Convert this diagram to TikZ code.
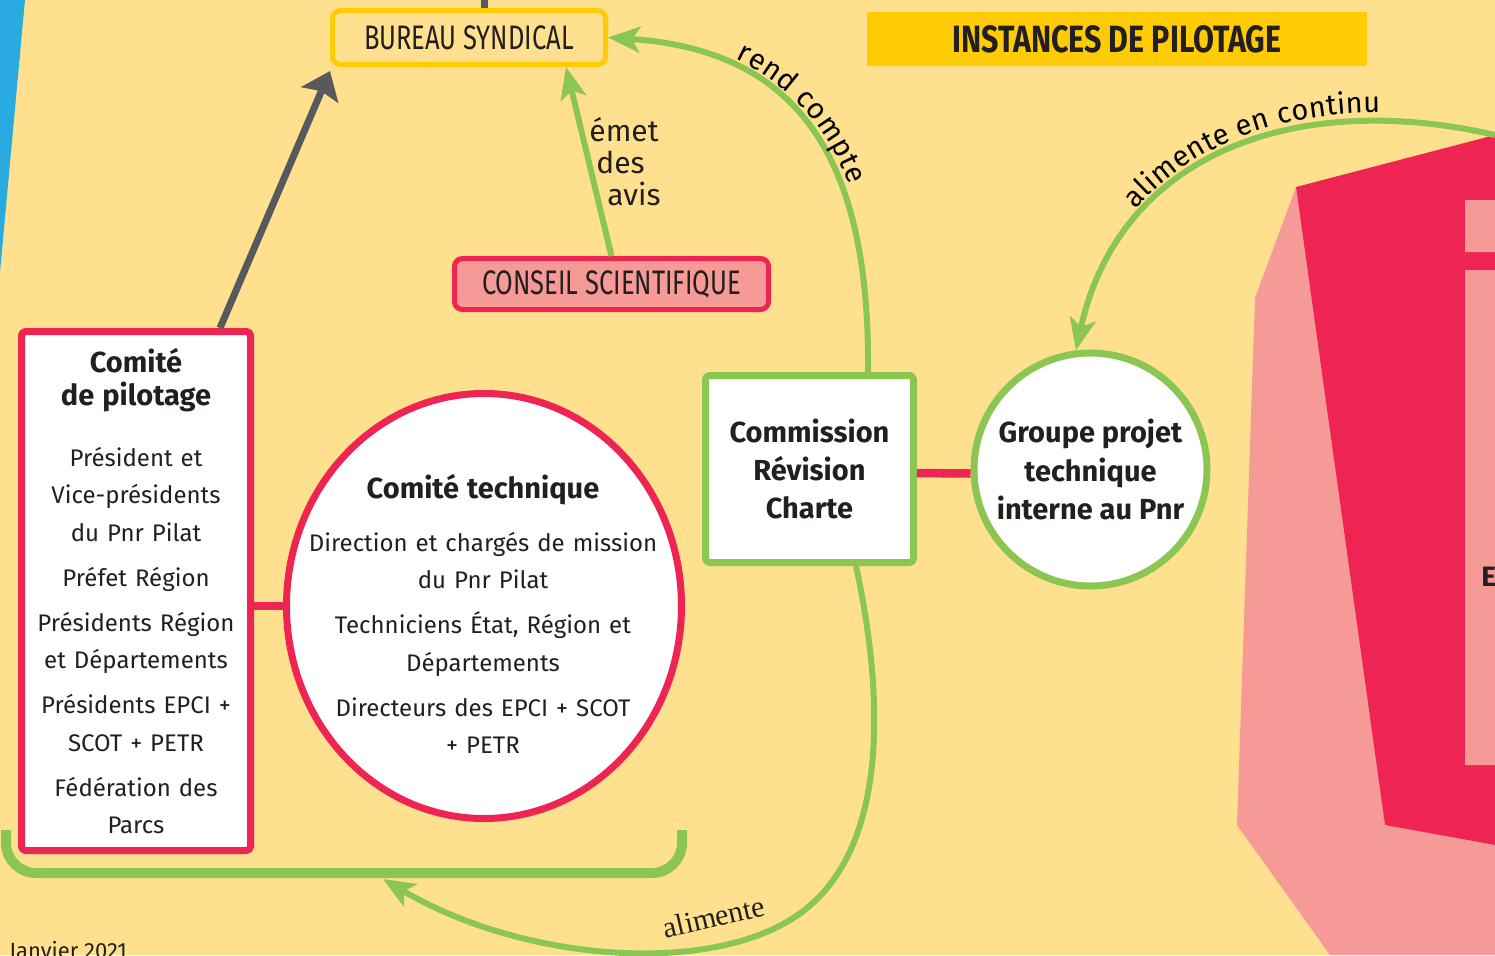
\documentclass[tikz,border=0pt]{standalone}
\usepackage{fontspec}
\setmainfont{Fira Sans}
\newfontfamily\condfont[FakeStretch=0.75]{Fira Sans}
\newfontfamily\wideconfont[FakeStretch=0.8]{Fira Sans}
\newfontfamily\seriffont{Liberation Serif}
\usetikzlibrary{arrows.meta,calc,decorations.text,shapes.geometric}
\definecolor{bgyellow}{HTML}{FEE08E}
\definecolor{pnrgreen}{HTML}{8BC653}
\definecolor{pnrred}{HTML}{EE2453}
\definecolor{pnrpink}{HTML}{F59A97}
\definecolor{pnrgold}{HTML}{FFCB05}
\definecolor{pnrgray}{HTML}{58595B}
\definecolor{pnrblue}{HTML}{29ABE2}
\definecolor{inkdark}{HTML}{231F20}
\newcommand\headfont{\bfseries\fontsize{14.5}{16.5}\selectfont}
\begin{document}
\begin{tikzpicture}[x=.5pt,y=-.5pt,line join=round,
    every node/.style={text=inkdark,inner sep=0pt},
    body/.style={font=\fontsize{12}{18.75}\selectfont},
    pilotbox/.style={rectangle,draw=pnrred,line width=3.5pt,fill=white,rounded corners=2pt,
      minimum width=114.5pt,minimum height=259.5pt,body,text width=112pt,align=center},
    techring/.style={ellipse,draw=pnrred,line width=3.5pt,fill=white,
      minimum width=197.5pt,minimum height=212.5pt},
    revbox/.style={rectangle,draw=pnrgreen,line width=3.5pt,fill=white,rounded corners=2pt,
      minimum width=104pt,minimum height=93.5pt,align=center,
      font=\bfseries\fontsize{14.5}{19}\selectfont},
    groupring/.style={circle,draw=pnrgreen,line width=3.5pt,fill=white,
      minimum size=116.5pt,align=center,font=\bfseries\fontsize{14.5}{19.25}\selectfont},
    bureaubox/.style={rectangle,draw=pnrgold,line width=2.5pt,rounded corners=4pt,
      minimum width=136.5pt,minimum height=27pt,font=\condfont\fontsize{17}{17}\selectfont},
    conseilbox/.style={rectangle,draw=pnrred,fill=pnrpink,line width=2.5pt,rounded corners=4pt,
      minimum width=157pt,minimum height=25.5pt,font=\condfont\fontsize{17}{17}\selectfont},
    titlebar/.style={rectangle,fill=pnrgold,minimum width=250pt,minimum height=27pt,
      font=\wideconfont\bfseries\fontsize{19}{19}\selectfont},
    greenarrow/.style={draw=pnrgreen,line width=3pt,-{Stealth[length=16pt,width=13pt,inset=4pt]}},
    redlink/.style={draw=pnrred,line width=4.25pt},
    pathlabel/.style={decorate,decoration={text along path,raise=4pt,
      text={|\fontsize{14.5}{14.5}\selectfont|#1}}}]
  \useasboundingbox (0,0) rectangle (1495,955);
  \fill[bgyellow] (0,0) rectangle (1495,955);
  \fill[pnrblue] (0,0) -- (25,0) -- (0,272) -- cycle;
  % right hand side of the poster
  \fill[pnrpink] (1296,187) -- (1255,298) -- (1237,825) -- (1330,955) -- (1495,955) -- (1495,845) -- (1385,825) -- cycle;
  \fill[pnrred] (1296,187) -- (1495,135) -- (1495,845) -- (1385,825) -- cycle;
  \fill[pnrpink] (1465,200) rectangle (1495,252) (1465,270) rectangle (1495,765);
  \node[anchor=west,font=\bfseries\fontsize{14}{14}\selectfont] (cutword) at (1481,577) {E};

  \node[titlebar] (title) at (1117,39) {INSTANCES DE PILOTAGE};
  \node[bureaubox] (bs) at (469,37.5) {BUREAU SYNDICAL};
  \node[conseilbox] (cs) at (611.5,284) {CONSEIL SCIENTIFIQUE};
  \node[pilotbox] (pil) at (136,591) {%
    {\headfont Comité\\de pilotage\par}\vspace{11.75pt}
    Président et\\Vice-présidents\\du Pnr Pilat\par\vspace{3.75pt}
    Préfet Région\par\vspace{3.75pt}
    Présidents Région\\et Départements\par\vspace{3.75pt}
    Présidents EPCI +\\SCOT + PETR\par\vspace{3.75pt}
    Fédération des\\Parcs\par};
  \node[techring] (tech) at (484,606) {};
  \node[body,text width=182pt,align=center] (techtxt) at (483,614) {%
    {\headfont Comité technique\par}\vspace{7.75pt}
    Direction et chargés de mission\\du Pnr Pilat\par\vspace{3.75pt}
    Techniciens État, Région et\\Départements\par\vspace{3.75pt}
    Directeurs des EPCI + SCOT\\+ PETR\par};
  \node[revbox] (cmr) at (809.5,469) {Commission\\Révision\\Charte};
  \node[groupring] (gpt) at (1090.5,469.5) {Groupe projet\\technique\\interne au Pnr};

  \draw[redlink] (pil.east |- tech.west) -- (tech.west);
  \draw[redlink] ($(cmr.east)+(0,4)$) -- ($(gpt.west)+(0,4)$);

  \coordinate (bstub) at (484,0);
  \draw[pnrgray,line width=3.5pt] (bs.north -| bstub) -- (bstub);
  \draw[pnrgray,line width=3.5pt,-{Stealth[length=13pt,width=20pt,inset=2pt]}]
    ($(pil.north east)+(-34,0)$) -- ($(bs.south west)+(0,4)$);
  \draw[greenarrow] (cs.north) -- ($(bs.south east)+(-42,0)$);
  \node[anchor=north west,align=left,font=\fontsize{15}{16}\selectfont] (avis) at (589,117)
    {émet\\\hspace*{3.5pt}des\\\hspace*{9pt}avis};

  \draw[greenarrow] ($(cmr.north east)+(-49,0)$) .. controls (870,160) and (800,50) .. (bs.east);
  \path[pathlabel={rend compte},decoration={text align={left indent=64pt}}]
    (bs.east) .. controls (800,50) and (870,160) .. ($(cmr.north east)+(-49,0)$);

  \coordinate (offR) at (1495,135);
  \draw[greenarrow] (offR) .. controls (1300,90) and (1120,150) .. (gpt.97);
  \path[pathlabel={alimente en continu},decoration={text align={left indent=76pt}}]
    (gpt.97) .. controls (1120,150) and (1300,90) .. (offR);

  \draw[pnrgreen,line width=5pt,rounded corners=15pt] (6,830) -- (6,873) -- (682,873) -- (682,830);
  \coordinate (brk) at (383,879);
  \draw[greenarrow] ($(cmr.south east)+(-61,0)$) .. controls (885,700) and (890,860) .. (790,920)
    .. controls (700,975) and (520,960) .. (brk);
  \node[rotate=13,font=\seriffont\fontsize{15}{15}\selectfont] (feed) at (714,917) {alimente};

  \node[anchor=base west,font=\fontsize{11}{11}\selectfont] (date) at (9,958) {Janvier 2021};
\end{tikzpicture}
\end{document}
